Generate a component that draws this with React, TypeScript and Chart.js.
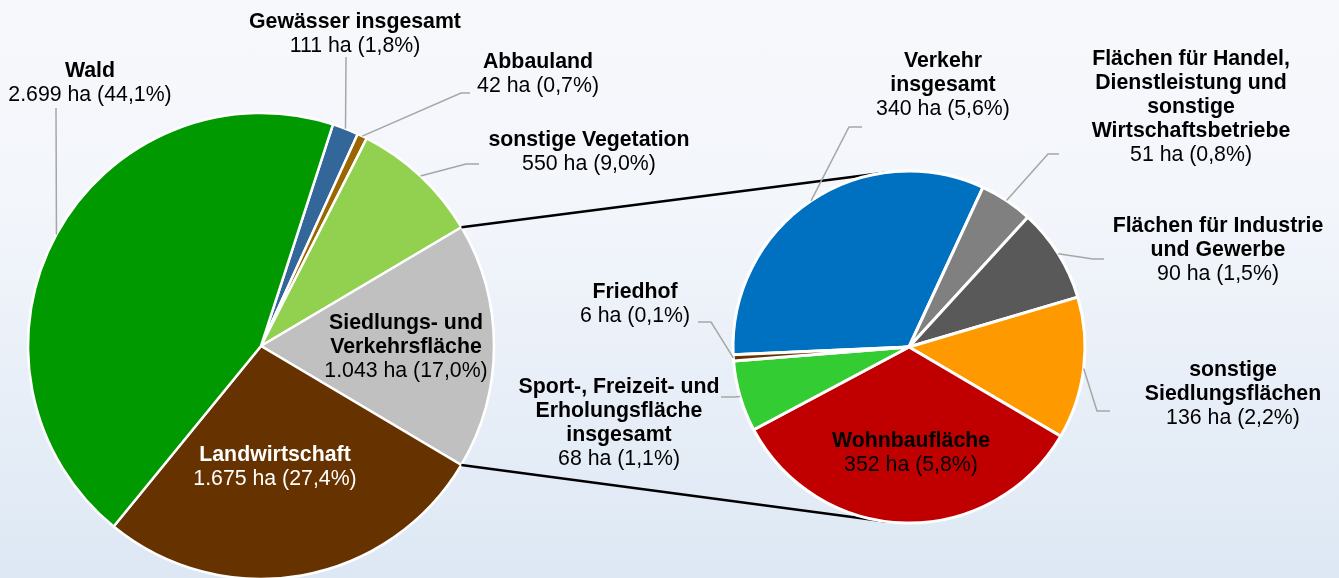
import { useEffect, useRef } from "react";
import { Chart, registerables } from "chart.js";

Chart.register(...registerables);

// ---- data ----
const mainCategories = [
  "Gewässer insgesamt",
  "Abbauland",
  "sonstige Vegetation",
  "Siedlungs- und\nVerkehrsfläche",
  "Landwirtschaft",
  "Wald",
];
const mainValues = [111, 42, 550, 1043, 1675, 2699];
const mainColors = ["#336699", "#996600", "#92D050", "#C0C0C0", "#663300", "#009900"];

const subCategories = [
  "Verkehr\ninsgesamt",
  "Flächen für Handel,\nDienstleistung und\nsonstige\nWirtschaftsbetriebe",
  "Flächen für Industrie\nund Gewerbe",
  "sonstige\nSiedlungsflächen",
  "Wohnbaufläche",
  "Sport-, Freizeit- und\nErholungsfläche\ninsgesamt",
  "Friedhof",
];
const subValues = [340, 51, 90, 136, 352, 68, 6];
const subColors = ["#0070C0", "#808080", "#595959", "#FF9900", "#C00000", "#33CC33", "#663300"];

const totalArea = mainValues.reduce((a, b) => a + b, 0);
const explodedIndex = 3; // "Siedlungs- und Verkehrsfläche" is split into the second pie

// ---- label layout (text anchor and leader-line elbows) ----
type LabelSpec = { x: number; y: number; leader: number[][] | null; color?: string };

const mainLabelLayout: LabelSpec[] = [
  { x: 355, y: 22, leader: [[346, 57]] },
  { x: 538, y: 62, leader: [[470, 93], [461, 93]] },
  { x: 589, y: 140, leader: [[479, 164], [466, 164]] },
  { x: 406, y: 323, leader: null },
  { x: 275, y: 455, leader: null, color: "#ffffff" },
  { x: 90, y: 71, leader: [[56, 108]] },
];

const subLabelLayout: LabelSpec[] = [
  { x: 943, y: 61, leader: [[862, 127], [849, 127]] },
  { x: 1191, y: 59, leader: [[1059, 154], [1048, 154]] },
  { x: 1218, y: 226, leader: [[1104, 259], [1093, 259]] },
  { x: 1233, y: 370, leader: [[1110, 411], [1097, 411]] },
  { x: 911, y: 441, leader: null },
  { x: 619, y: 387, leader: [[721, 397], [734, 397]] },
  { x: 635, y: 292, leader: [[698, 322], [711, 322]] },
];

const FONT_FAMILY = '"Liberation Sans", Arial, Helvetica, sans-serif';
const FONT_SIZE = 21.3;
const LINE_HEIGHT = 24;

function formatHa(v: number): string {
  return String(v).replace(/\B(?=(\d{3})+(?!\d))/g, ".");
}
function formatPct(v: number): string {
  return ((v / totalArea) * 100).toFixed(1).replace(".", ",");
}

function makeLabelPlugin(id: string, categories: string[], values: number[], layout: LabelSpec[]) {
  return {
    id,
    afterDatasetsDraw(chart: any) {
      const ctx = chart.ctx as CanvasRenderingContext2D;
      const meta = chart.getDatasetMeta(0);
      ctx.save();
      meta.data.forEach((arc: any, i: number) => {
        const spec = layout[i];
        if (!spec) return;
        const p = arc.getProps(["x", "y", "startAngle", "endAngle", "outerRadius"], true);
        if (spec.leader) {
          const mid = (p.startAngle + p.endAngle) / 2;
          const ex = p.x + Math.cos(mid) * p.outerRadius;
          const ey = p.y + Math.sin(mid) * p.outerRadius;
          ctx.beginPath();
          ctx.strokeStyle = "#a6a6a6";
          ctx.lineWidth = 1.5;
          ctx.moveTo(spec.leader[0][0], spec.leader[0][1]);
          for (let k = 1; k < spec.leader.length; k++) ctx.lineTo(spec.leader[k][0], spec.leader[k][1]);
          ctx.lineTo(ex, ey);
          ctx.stroke();
        }
        const lines = categories[i].split("\n");
        ctx.fillStyle = spec.color || "#000000";
        ctx.textAlign = "center";
        ctx.textBaseline = "middle";
        ctx.font = `bold ${FONT_SIZE}px ${FONT_FAMILY}`;
        lines.forEach((ln, k) => ctx.fillText(ln, spec.x, spec.y + k * LINE_HEIGHT));
        ctx.font = `${FONT_SIZE}px ${FONT_FAMILY}`;
        ctx.fillText(
          `${formatHa(values[i])} ha (${formatPct(values[i])}%)`,
          spec.x,
          spec.y + lines.length * LINE_HEIGHT
        );
      });
      ctx.restore();
    },
  };
}

function tangentPoint(px: number, py: number, cx: number, cy: number, r: number, sign: number) {
  const d = Math.hypot(px - cx, py - cy);
  const base = Math.atan2(py - cy, px - cx);
  const a = Math.acos(Math.min(1, r / d));
  const ang = base + sign * a;
  return [cx + Math.cos(ang) * r, cy + Math.sin(ang) * r];
}

function makeConnectorPlugin(getMain: () => any) {
  return {
    id: "connectors",
    beforeDatasetsDraw(chart: any) {
      const main = getMain();
      if (!main) return;
      const src = main.getDatasetMeta(0).data[explodedIndex];
      const dst = chart.getDatasetMeta(0).data[0];
      if (!src || !dst) return;
      const s = src.getProps(["x", "y", "startAngle", "endAngle", "outerRadius"], true);
      const d = dst.getProps(["x", "y", "outerRadius"], true);
      const ax = s.x + Math.cos(s.startAngle) * s.outerRadius;
      const ay = s.y + Math.sin(s.startAngle) * s.outerRadius;
      const bx = s.x + Math.cos(s.endAngle) * s.outerRadius;
      const by = s.y + Math.sin(s.endAngle) * s.outerRadius;
      const t1 = tangentPoint(ax, ay, d.x, d.y, d.outerRadius, 1);
      const t2 = tangentPoint(bx, by, d.x, d.y, d.outerRadius, -1);
      const ctx = chart.ctx as CanvasRenderingContext2D;
      ctx.save();
      ctx.strokeStyle = "#000000";
      ctx.lineWidth = 2.6;
      ctx.beginPath();
      ctx.moveTo(ax, ay);
      ctx.lineTo(t1[0], t1[1]);
      ctx.moveTo(bx, by);
      ctx.lineTo(t2[0], t2[1]);
      ctx.stroke();
      ctx.restore();
    },
  };
}

const W = 1339;
const H = 578;

export default function App() {
  const mainRef = useRef<HTMLCanvasElement | null>(null);
  const subRef = useRef<HTMLCanvasElement | null>(null);

  useEffect(() => {
    document.body.style.margin = "0";
    if (!mainRef.current || !subRef.current) return;

    const mainChart = new Chart(mainRef.current, {
      type: "pie",
      data: {
        labels: mainCategories,
        datasets: [
          {
            data: mainValues,
            backgroundColor: mainColors,
            borderColor: "#ffffff",
            borderWidth: 2.5,
          },
        ],
      },
      options: {
        responsive: false,
        animation: false,
        events: [],
        rotation: 18,
        radius: 233,
        layout: { padding: { left: 0, right: W - 522, top: 114, bottom: 0 } },
        plugins: { legend: { display: false }, tooltip: { enabled: false }, title: { display: false } },
      } as any,
      plugins: [makeLabelPlugin("mainLabels", mainCategories, mainValues, mainLabelLayout)],
    });

    const subChart = new Chart(subRef.current, {
      type: "pie",
      data: {
        labels: subCategories,
        datasets: [
          {
            data: subValues,
            backgroundColor: subColors,
            borderColor: "#ffffff",
            borderWidth: 3,
          },
        ],
      },
      options: {
        responsive: false,
        animation: false,
        events: [],
        rotation: -92.5,
        radius: 176,
        layout: { padding: { left: 479, right: 0, top: 116, bottom: 0 } },
        plugins: { legend: { display: false }, tooltip: { enabled: false }, title: { display: false } },
      } as any,
      plugins: [
        makeConnectorPlugin(() => mainChart),
        makeLabelPlugin("subLabels", subCategories, subValues, subLabelLayout),
      ],
    });

    return () => {
      subChart.destroy();
      mainChart.destroy();
    };
  }, []);

  return (
    <div
      style={{
        position: "relative",
        width: W,
        height: H,
        overflow: "hidden",
        background: "linear-gradient(to bottom, #f7f8fc 0%, #f3f6fb 35%, #e9eff8 65%, #dde8f4 100%)",
      }}
    >
      <canvas
        ref={mainRef}
        width={W}
        height={H}
        style={{ position: "absolute", left: 0, top: 0, width: W, height: H, zIndex: 1 }}
      />
      <canvas
        ref={subRef}
        width={W}
        height={H}
        style={{ position: "absolute", left: 0, top: 0, width: W, height: H, zIndex: 2 }}
      />
    </div>
  );
}
